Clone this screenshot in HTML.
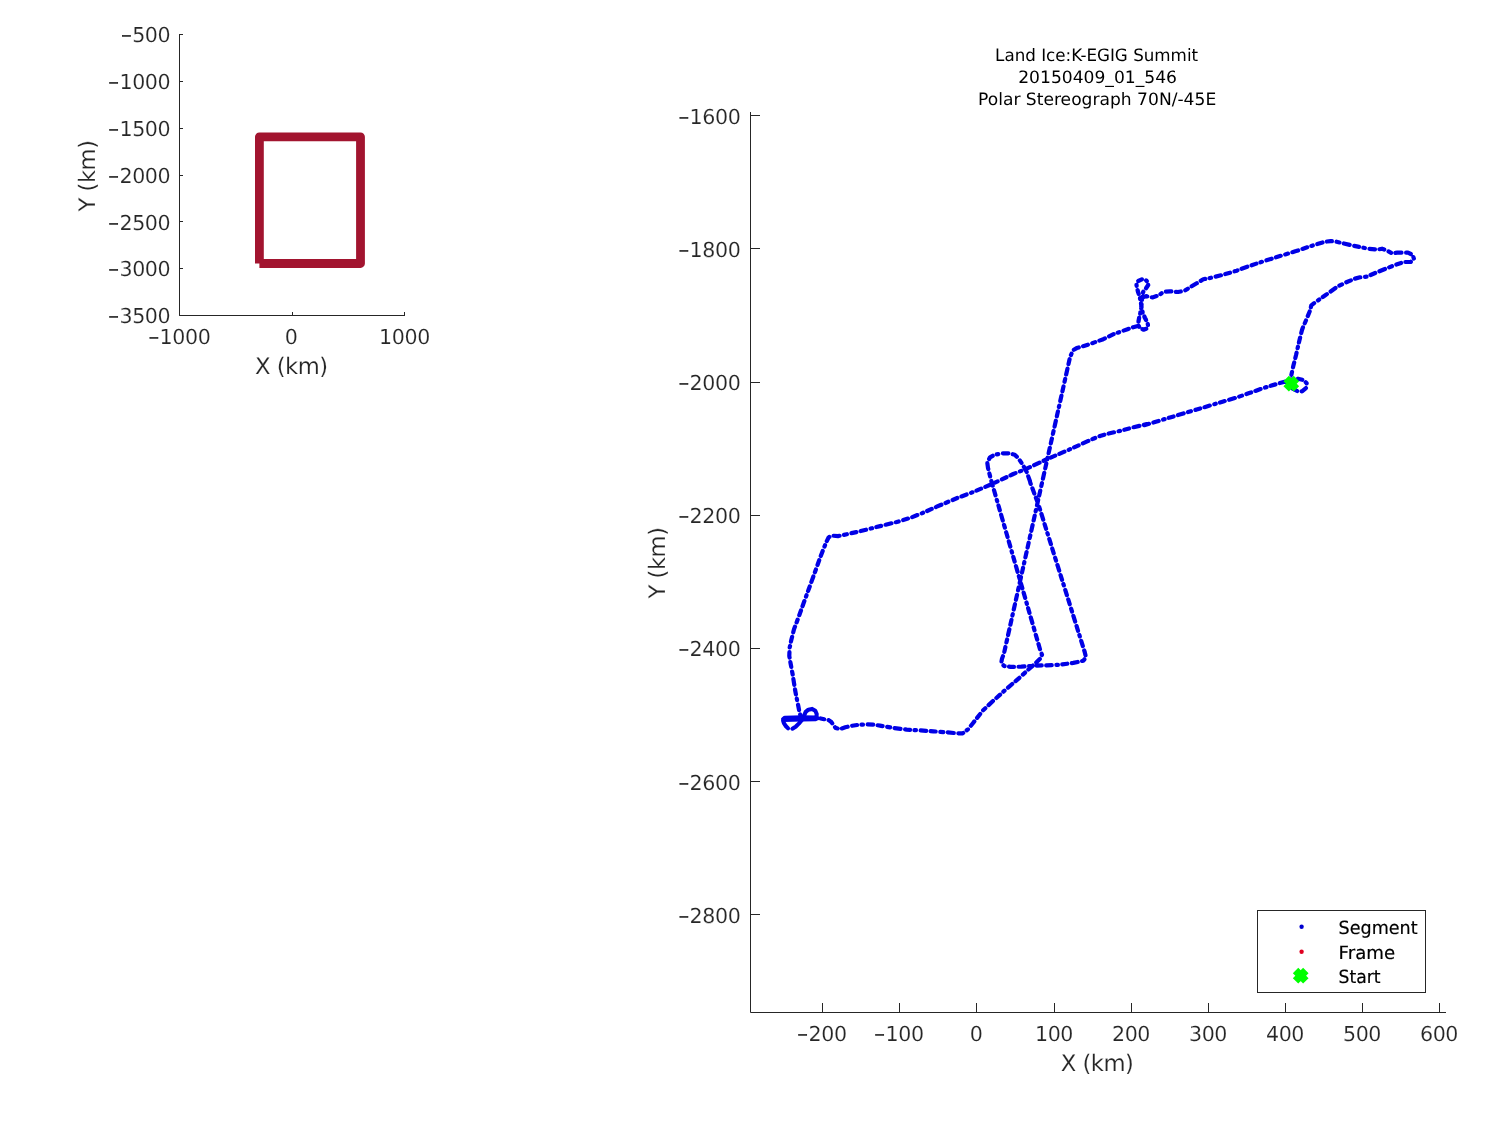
<!DOCTYPE html>
<html lang="en">
<head>
<meta charset="utf-8">
<title>Land Ice:K-EGIG Summit 20150409_01_546</title>
<style>
html,body{margin:0;padding:0;background:#fff;}
body{width:1500px;height:1125px;overflow:hidden;}
svg{display:block;position:absolute;left:0;top:0;}
text{font-family:"DejaVu Sans","Liberation Sans",sans-serif;text-rendering:geometricPrecision;}
.tk{font-size:20.6px;letter-spacing:-0.38px;fill:#262626;stroke:#fff;stroke-width:0.15px;}
.mn{font-size:12.9px;stroke:#262626;stroke-width:0.7px;letter-spacing:0;}
.lb{font-size:22.7px;fill:#262626;letter-spacing:-0.5px;stroke:#fff;stroke-width:0.15px;}
.tt{font-size:17px;fill:#000;}
.lg{font-size:18.2px;fill:#000;stroke:#000;stroke-width:0.2px;}
</style>
</head>
<body>
<svg width="1500" height="1125" viewBox="0 0 1500 1125">
<rect width="1500" height="1125" fill="#fff"/>
<g id="inset">
<path d="M179.5,34.0 V315.5 H405.0" fill="none" stroke="#262626" stroke-width="1" stroke-linecap="butt" stroke-linejoin="miter"/>
<path d="M179.5,315.5 h3.5 M179.5,268.5 h3.5 M179.5,221.5 h3.5 M179.5,175.5 h3.5 M179.5,128.5 h3.5 M179.5,81.5 h3.5 M179.5,34.5 h3.5 M179.5,315.5 v-3.5 M292.5,315.5 v-3.5 M404.5,315.5 v-3.5 " fill="none" stroke="#262626" stroke-width="1"/>
<text x="170.3" y="323" text-anchor="end" class="tk"><tspan class="mn" dy="-2">−</tspan><tspan dy="2" dx="0.3">3500</tspan></text>
<text x="170.3" y="276" text-anchor="end" class="tk"><tspan class="mn" dy="-2">−</tspan><tspan dy="2" dx="0.3">3000</tspan></text>
<text x="170.3" y="230" text-anchor="end" class="tk"><tspan class="mn" dy="-2">−</tspan><tspan dy="2" dx="0.3">2500</tspan></text>
<text x="170.3" y="183" text-anchor="end" class="tk"><tspan class="mn" dy="-2">−</tspan><tspan dy="2" dx="0.3">2000</tspan></text>
<text x="170.3" y="136" text-anchor="end" class="tk"><tspan class="mn" dy="-2">−</tspan><tspan dy="2" dx="0.3">1500</tspan></text>
<text x="170.3" y="89" text-anchor="end" class="tk"><tspan class="mn" dy="-2">−</tspan><tspan dy="2" dx="0.3">1000</tspan></text>
<text x="170.3" y="42" text-anchor="end" class="tk"><tspan class="mn" dy="-2">−</tspan><tspan dy="2" dx="0.3">500</tspan></text>
<text x="179.5" y="344" text-anchor="middle" class="tk"><tspan class="mn" dy="-2">−</tspan><tspan dy="2" dx="0.3">1000</tspan></text>
<text x="291" y="344" text-anchor="middle" class="tk">0</text>
<text x="404.5" y="344" text-anchor="middle" class="tk">1000</text>
<text x="291.3" y="374" text-anchor="middle" class="lb">X (km)</text>
<text transform="translate(94.8,176) rotate(-90)" text-anchor="middle" class="lb">Y (km)</text>
<path d="M259.4,263.5 V136.8 H360.5 V263.5 H259.4" fill="none" stroke="#A2142F" stroke-width="8.8" stroke-linejoin="round"/>
</g>
<g id="main">
<path d="M750.5,112.0 V1012.5 H1446.0" fill="none" stroke="#262626" stroke-width="1" stroke-linejoin="miter"/>
<path d="M750.5,914.5 h9.5 M750.5,781.5 h9.5 M750.5,648.5 h9.5 M750.5,515.5 h9.5 M750.5,382.5 h9.5 M750.5,248.5 h9.5 M750.5,115.5 h9.5 M822.5,1012.5 v-9.5 M899.5,1012.5 v-9.5 M976.5,1012.5 v-9.5 M1054.5,1012.5 v-9.5 M1131.5,1012.5 v-9.5 M1208.5,1012.5 v-9.5 M1285.5,1012.5 v-9.5 M1362.5,1012.5 v-9.5 M1439.5,1012.5 v-9.5 " fill="none" stroke="#262626" stroke-width="1"/>
<text x="740.5" y="923" text-anchor="end" class="tk"><tspan class="mn" dy="-2">−</tspan><tspan dy="2" dx="0.3">2800</tspan></text>
<text x="740.5" y="790" text-anchor="end" class="tk"><tspan class="mn" dy="-2">−</tspan><tspan dy="2" dx="0.3">2600</tspan></text>
<text x="740.5" y="656" text-anchor="end" class="tk"><tspan class="mn" dy="-2">−</tspan><tspan dy="2" dx="0.3">2400</tspan></text>
<text x="740.5" y="523" text-anchor="end" class="tk"><tspan class="mn" dy="-2">−</tspan><tspan dy="2" dx="0.3">2200</tspan></text>
<text x="740.5" y="390" text-anchor="end" class="tk"><tspan class="mn" dy="-2">−</tspan><tspan dy="2" dx="0.3">2000</tspan></text>
<text x="740.5" y="257" text-anchor="end" class="tk"><tspan class="mn" dy="-2">−</tspan><tspan dy="2" dx="0.3">1800</tspan></text>
<text x="740.5" y="124" text-anchor="end" class="tk"><tspan class="mn" dy="-2">−</tspan><tspan dy="2" dx="0.3">1600</tspan></text>
<text x="822" y="1041" text-anchor="middle" class="tk"><tspan class="mn" dy="-2">−</tspan><tspan dy="2" dx="0.3">200</tspan></text>
<text x="899" y="1041" text-anchor="middle" class="tk"><tspan class="mn" dy="-2">−</tspan><tspan dy="2" dx="0.3">100</tspan></text>
<text x="976" y="1041" text-anchor="middle" class="tk">0</text>
<text x="1054" y="1041" text-anchor="middle" class="tk">100</text>
<text x="1131" y="1041" text-anchor="middle" class="tk">200</text>
<text x="1208" y="1041" text-anchor="middle" class="tk">300</text>
<text x="1285" y="1041" text-anchor="middle" class="tk">400</text>
<text x="1362" y="1041" text-anchor="middle" class="tk">500</text>
<text x="1439" y="1041" text-anchor="middle" class="tk">600</text>
<text x="1097" y="1070.7" text-anchor="middle" class="lb">X (km)</text>
<text transform="translate(665,563) rotate(-90)" text-anchor="middle" class="lb">Y (km)</text>
<g class="tt" text-anchor="middle">
<text x="1096.6" y="60.7" textLength="203" lengthAdjust="spacingAndGlyphs">Land Ice:K-EGIG Summit</text>
<text x="1097.6" y="82.7" textLength="158.8" lengthAdjust="spacingAndGlyphs">20150409_01_546</text>
<text x="1097.1" y="104.7" textLength="238.2" lengthAdjust="spacingAndGlyphs">Polar Stereograph 70N/-45E</text>
</g>
<g fill="none" stroke="#0000E6" stroke-width="4.2" stroke-linecap="round" stroke-linejoin="round">
<path d="M1292.7,388.7 L1297.3,391.1 L1302.0,391.3 L1306.0,388.0 L1306.7,383.3 L1303.3,380.0 L1298.0,378.7 L1291.3,382.7 L1291.3,375.3 L1293.3,366.0 L1296.0,355.3 L1298.7,343.3 L1302.0,330.0 L1302.7,328.0 L1306.7,318.7 L1310.0,310.7 L1311.3,305.3 L1314.7,302.7 L1325.3,295.3 L1337.3,286.7 L1345.3,282.7 L1354.7,278.7 L1360.0,277.3 L1366.7,276.7 L1376.0,272.7 L1386.7,268.3 L1396.0,264.7 L1404.0,262.0 L1410.7,262.0 L1414.0,258.9 L1412.7,254.9 L1408.0,252.7 L1402.7,252.7 L1397.3,252.7 L1392.0,253.3 L1386.7,250.4 L1382.0,248.7 L1377.3,249.6 L1368.0,248.7 L1350.7,245.1 L1336.0,241.6 L1330.7,241.1 L1325.3,241.7 L1313.3,245.3 L1296.0,251.1 L1276.0,257.3 L1257.3,263.3 L1240.0,269.3 L1236.7,270.7 L1223.3,274.7 L1210.0,278.0 L1203.3,279.3 L1196.7,283.3 L1190.0,287.3 L1184.7,290.7 L1178.0,292.0 L1170.0,291.3 L1163.6,291.8 L1158.6,295.5 L1152.4,297.4 L1146.8,296.4" stroke-dasharray="5 4.5 5.5 4.7 1.5 4.4 5 4.6 6 4.5 3 4.7"/>
<path d="M1137.8,326.0 L1133.2,327.2 L1127.6,329.2 L1122.0,331.2 L1114.0,334.0 L1103.3,339.2 L1090.0,344.0 L1076.7,348.1 L1072.9,350.4 L1070.0,357.3 L1004.0,653.3 L1002.0,658.7 L1001.3,662.7 L1004.0,666.0 L1010.7,666.9 L1021.3,666.7 L1033.3,665.7 L1046.7,665.3 L1060.0,664.7 L1073.3,662.9 L1083.3,660.7 L1086.0,657.3 L1084.7,652.0 L1038.7,505.3 L1029.3,480.0 L1030.0,481.3 L1026.7,472.0 L1022.7,464.7 L1018.7,458.7 L1014.7,454.7 L1009.3,453.3 L1002.7,453.3 L994.7,454.7 L990.0,457.3 L987.3,462.7 L988.0,468.0 L990.7,478.7 L1040.0,649.3 L1042.0,654.7 L1040.0,658.7 L1034.7,664.0 L1029.3,668.7 L1020.0,677.3 L1006.7,688.7 L993.3,700.7 L982.7,710.7 L973.3,722.7 L968.0,729.3 L962.7,733.3 L957.3,733.3 L946.7,732.3 L933.3,731.3 L920.0,730.4 L906.7,729.6 L893.3,728.0 L880.0,725.6 L873.3,724.7 L866.7,724.4 L858.7,724.8 L850.7,726.0 L845.3,727.3 L840.0,729.1 L835.6,727.9 L833.5,725.2 L831.3,722.0 L828.7,720.1 L826.0,719.6 L820.7,718.5" stroke-dasharray="5 4.5 5.5 4.7 1.5 4.4 5 4.6 6 4.5 3 4.7"/>
<path d="M802.0,719.1 L800.9,717.2 L799.9,713.5 L799.1,710.3 L798.3,706.0 L797.2,700.7 L796.1,695.3 L795.1,690.0 L792.7,674.7 L790.7,664.0 L789.3,656.0 L789.6,648.0 L791.3,640.0 L792.0,637.3 L794.0,629.3 L798.0,618.7 L803.3,604.0 L808.7,589.3 L814.0,574.7 L819.3,560.0 L823.3,549.3 L826.7,541.3 L828.7,537.3 L832.0,535.6 L838.0,536.1 L847.3,534.1 L856.7,532.0 L870.0,528.7 L883.3,525.3 L896.7,522.0 L910.0,518.0 L923.3,512.7 L936.7,506.7 L940.0,505.3 L957.3,498.0 L973.3,492.0 L992.0,484.0 L1013.3,474.0 L1026.7,468.7 L1048.0,458.7 L1066.7,450.7 L1080.0,444.7 L1093.3,438.7 L1100.0,436.0 L1106.7,434.0 L1120.0,430.9 L1133.3,427.3 L1146.7,424.1 L1143.3,425.5 L1156.7,421.5 L1170.0,417.5 L1183.3,413.5 L1196.7,409.5 L1210.0,405.5 L1223.3,401.5 L1236.7,397.5 L1250.0,392.8 L1263.3,388.1 L1276.7,384.0 L1284.7,381.7 L1291.3,382.9" stroke-dasharray="5 4.5 5.5 4.7 1.5 4.4 5 4.6 6 4.5 3 4.7"/>
<path d="M1146.0,296.2 L1142.8,297.2 L1142.0,294.8 L1143.4,291.6 L1146.0,288.2 L1148.2,285.0 L1148.1,282.2 L1145.7,280.1 L1141.8,279.4 L1138.2,281.0 L1136.4,284.2 L1136.9,287.6 L1138.2,292.4 L1139.8,297.2 L1140.8,302.0 L1141.6,307.6 L1142.8,313.2 L1145.0,318.0 L1147.3,322.4 L1148.2,325.8 L1146.6,328.6 L1143.6,329.6 L1140.4,328.6 L1138.6,325.8 L1138.4,322.0 L1139.1,318.0 L1140.2,313.2 L1141.2,307.6 L1141.8,302.0 L1142.2,297.2" stroke-width="4.3" stroke-dasharray="4 4.3 1 4.4"/>
<path d="M818.0,718.2 L816.4,718.0 L816.7,714.0 L815.3,710.8 L812.1,708.9 L808.4,709.7 L805.7,711.9 L804.1,715.6 L801.5,720.4 L798.8,723.6 L795.6,726.8 L792.4,728.7" stroke-width="4.1"/>
<path d="M815.9,719.1 L802.0,719.4 L783.9,719.9 L783.1,720.7 L783.9,723.1 L786.0,726.3 L788.1,728.4" stroke-width="4.1"/>
<path d="M816.4,717.5 L802.0,717.2 L784.9,717.7 L783.1,719.1" stroke-width="4.1"/>
</g>
<path d="M1286.15,378.55 L1296.45,388.85 M1286.15,388.85 L1296.45,378.55" fill="none" stroke="#00FF00" stroke-width="7.7" stroke-linecap="butt"/>
<rect x="1257.5" y="910.5" width="168" height="82" fill="#fff" stroke="#262626" stroke-width="1"/>
<circle cx="1301.6" cy="926.7" r="2.2" fill="#0000D0"/>
<circle cx="1301.6" cy="951.7" r="2.2" fill="#E00020"/>
<path d="M1295.55,970.55 L1305.85,980.85 M1295.55,980.85 L1305.85,970.55" fill="none" stroke="#00FF00" stroke-width="7.7" stroke-linecap="butt"/>
<g class="lg">
<text x="1338.6" y="933.7" textLength="79" lengthAdjust="spacingAndGlyphs">Segment</text>
<text x="1338.6" y="958.6" textLength="56.5" lengthAdjust="spacingAndGlyphs">Frame</text>
<text x="1338.6" y="982.8" textLength="42" lengthAdjust="spacingAndGlyphs">Start</text>
</g>
</g>
</svg>
</body>
</html>
